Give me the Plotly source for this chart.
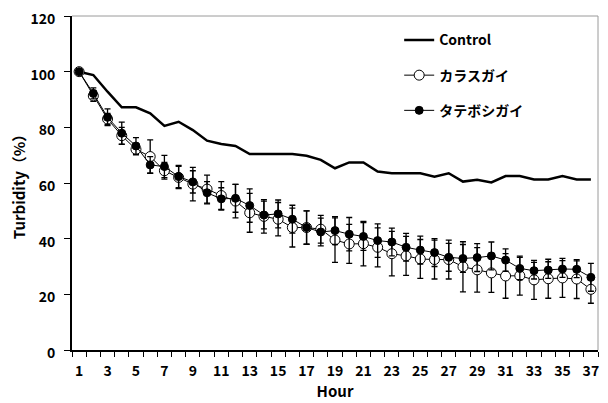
import plotly.graph_objects as go

hours = list(range(1, 38))
control = [100, 98.8, 92.8, 87.2, 87.2, 85, 80.5, 82, 79, 75.2, 74, 73.3, 70.4, 70.4, 70.4, 70.4,
           69.8, 68.3, 65.3, 67.4, 67.4, 64.1, 63.5, 63.5, 63.5, 62.3, 63.5, 60.5, 61.2, 60.2,
           62.5, 62.5, 61.3, 61.3, 62.5, 61.3, 61.3]
karasu = [100, 91.3, 83, 77, 72.1, 69.5, 64.4, 62, 59.6, 57.8, 55.5, 53.5, 49.3, 48, 47, 44,
          44, 43.4, 39.5, 38.1, 38.2, 36.9, 34.6, 33.8, 32.7, 32.5, 32.5, 29.9, 28.8, 27.7,
          26.6, 26.7, 25.2, 25.6, 25.9, 25.5, 21.8]
karasu_err = [0, 2, 2, 3, 2, 6, 3, 4, 6, 5, 5, 6, 7, 6, 6, 7, 6, 5, 8, 7, 8, 7, 8, 7, 7, 7, 7,
              9, 8, 7, 8, 7, 7, 7, 7, 7, 5]
tatebosi = [100, 92.2, 83.6, 77.9, 73.3, 66.5, 65.9, 62.3, 60.4, 56.5, 54.3, 54.5, 51.9, 48.5,
            48.9, 47, 44, 42.4, 42.9, 41.6, 40.8, 39.3, 38.8, 36.9, 35.9, 35, 33.3, 32.9, 33.2,
            33.8, 32.3, 29.3, 28.5, 28.7, 29.1, 29, 26.1]
tatebosi_err = [0, 2, 3, 4, 3, 3, 4, 4, 4, 4, 4, 5, 6, 5, 5, 5, 6, 5, 5, 6, 5, 6, 5, 5, 5, 5, 5,
                5, 5, 5, 4, 4, 3, 3, 3, 3, 5]

x_ticks = list(range(1, 38, 2))
y_ticks = [0, 20, 40, 60, 80, 100, 120]

FONT = "Noto Sans CJK JP"

fig = go.Figure()
fig.add_trace(go.Scatter(
    x=hours, y=control, name="Control", mode="lines",
    line=dict(color="black", width=2.5), legendgroup="a"))
fig.add_trace(go.Scatter(
    x=hours, y=karasu, name="カラスガイ", mode="lines+markers",
    line=dict(color="black", width=1),
    marker=dict(symbol="circle", size=10, color="white", line=dict(color="black", width=1)),
    error_y=dict(type="data", array=karasu_err, color="black", thickness=1.3, width=3),
    legendgroup="b"))
fig.add_trace(go.Scatter(
    x=hours, y=tatebosi, name="タテボシガイ", mode="lines+markers",
    line=dict(color="black", width=1),
    marker=dict(symbol="circle", size=8, color="black", line=dict(color="black", width=1)),
    error_y=dict(type="data", array=tatebosi_err, color="black", thickness=1.3, width=3),
    legendgroup="c"))

fig.update_layout(
    width=608, height=403,
    margin=dict(l=64, r=18, t=8, b=61),
    paper_bgcolor="white", plot_bgcolor="white",
    font=dict(family=FONT, color="black", size=13),
    showlegend=True,
    legend=dict(x=0.622, y=0.975, xanchor="left", yanchor="top",
                bgcolor="rgba(0,0,0,0)", tracegroupgap=14,
                font=dict(family=FONT, size=14, color="black", weight="bold")),
    xaxis=dict(
        range=[0.5, 37.5], tickmode="array", tickvals=x_ticks, automargin=False,
        ticktext=[str(v) for v in x_ticks], ticks="", showgrid=False, zeroline=False,
        showline=True, linecolor="black", linewidth=2, ticklabeloverflow="allow",
        ticklabelstandoff=7,
        tickfont=dict(family=FONT, size=14, weight="bold"),
        minor=dict(tickmode="linear", tick0=0.5, dtick=1, ticks="outside", ticklen=5,
                   tickcolor="black", tickwidth=1, showgrid=False),
        title=dict(text="Hour", font=dict(family=FONT, size=15, weight="bold"), standoff=7)),
    yaxis=dict(
        range=[0, 120], tickmode="array", tickvals=y_ticks, ticks="outside", ticklen=6,
        tickcolor="black", tickwidth=1, showgrid=False, zeroline=False, automargin=False,
        showline=True, linecolor="black", linewidth=2, ticklabeloverflow="allow",
        ticklabelstandoff=6, ticklabelshift=3,
        tickfont=dict(family=FONT, size=14, weight="bold"),
        title=dict(text="Turbidity（%）", font=dict(family=FONT, size=15, weight="bold"), standoff=2)),
    shapes=[
        dict(type="line", xref="paper", yref="paper", x0=0, x1=1, y0=1, y1=1,
             line=dict(color="#9a9a9a", width=1), layer="above"),
        dict(type="line", xref="paper", yref="paper", x0=1, x1=1, y0=0, y1=1,
             line=dict(color="#9a9a9a", width=1), layer="above"),
    ],
)

fig.write_html("out.html")
